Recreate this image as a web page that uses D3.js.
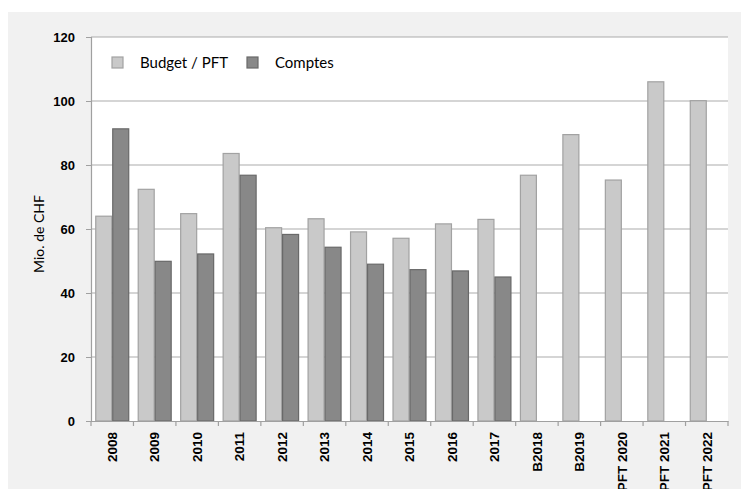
<!DOCTYPE html>
<html>
<head>
<meta charset="utf-8">
<script src="https://cdn.jsdelivr.net/npm/d3@7"></script>
<style>
  body { margin: 0; background: #fff; }
  svg { display: block; }
</style>
</head>
<body>
<div id="content"></div>
<script>
// Values (Mio. CHF)
var categories = ['2008', '2009', '2010', '2011', '2012', '2013', '2014', '2015', '2016', '2017',
    'B2018', 'B2019', 'PFT 2020', 'PFT 2021', 'PFT 2022'];
var budget = [64.0, 72.4, 64.8, 83.6, 60.4, 63.2, 59.1, 57.1, 61.6, 63.0, 76.8, 89.5, 75.3, 106.0, 100.1];
var comptes = [91.3, 49.9, 52.2, 76.8, 58.3, 54.3, 49.0, 47.3, 46.9, 45.0, null, null, null, null, null];
var yTicks = [0, 20, 40, 60, 80, 100, 120];
var seriesNames = ['Budget / PFT', 'Comptes'];

var W = 741, H = 489;
// plot area (note: "top" is reserved on window, so use a prefix)
var plotL = 91, plotR = 728, plotT = 37, plotB = 421;

var svg = d3.select('#content').append('svg')
    .attr('width', W)
    .attr('height', H)
    .style('font-family', 'Lato, "Open Sans", sans-serif');

// grey panel and white plot area
svg.append('rect').attr('x', 8).attr('y', 12).attr('width', W - 8).attr('height', H - 12).attr('fill', '#f1f1f1');
svg.append('rect').attr('x', plotL).attr('y', plotT).attr('width', plotR - plotL).attr('height', plotB - plotT).attr('fill', '#fff');

var x = d3.scaleBand().domain(categories).range([plotL, plotR]).paddingInner(0).paddingOuter(0);
var inner = d3.scaleBand().domain([0, 1]).range([0, x.bandwidth()]).paddingInner(0).paddingOuter(0.25);
var y = d3.scaleLinear().domain([0, 120]).range([plotB, plotT]);

// gridlines
svg.append('g').selectAll('line').data(yTicks.filter(function(d) { return d > 0; }))
    .enter().append('line')
    .attr('x1', plotL).attr('x2', plotR)
    .attr('y1', function(d) { return y(d); }).attr('y2', function(d) { return y(d); })
    .attr('stroke', '#acacac').attr('stroke-width', 1.2);

// y axis
var yAxis = svg.append('g')
    .attr('transform', 'translate(' + plotL + ',0)')
    .call(d3.axisLeft(y).tickValues(yTicks).tickSize(5).tickPadding(11));
yAxis.select('.domain').attr('stroke', '#a0a0a0').attr('stroke-width', 1.2);
yAxis.selectAll('.tick line').attr('stroke', '#a0a0a0');
yAxis.selectAll('.tick text')
    .attr('fill', '#000').style('font-size', '13px').style('font-weight', 'bold');

// bars
var colors = [{ fill: '#c9c9c9', stroke: '#a2a2a2' }, { fill: '#888888', stroke: '#696969' }];
[budget, comptes].forEach(function(series, s) {
    svg.append('g').selectAll('rect')
        .data(series.map(function(v, i) { return { cat: categories[i], v: v }; })
            .filter(function(d) { return d.v !== null; }))
        .enter().append('rect')
        .attr('x', function(d) { return x(d.cat) + inner(s) + 0.5; })
        .attr('width', inner.bandwidth() - 1)
        .attr('y', function(d) { return y(d.v); })
        .attr('height', function(d) { return y(0) - y(d.v); })
        .attr('fill', colors[s].fill)
        .attr('stroke', colors[s].stroke)
        .attr('stroke-width', 1.2);
});

// x axis
var xAxis = svg.append('g')
    .attr('transform', 'translate(0,' + plotB + ')')
    .call(d3.axisBottom(x).tickSize(0).tickSizeOuter(0));
xAxis.select('.domain').attr('stroke', '#a0a0a0').attr('stroke-width', 1.2);
xAxis.selectAll('.tick text')
    .attr('fill', '#000')
    .style('font-size', '13.5px').style('font-weight', 'bold')
    .attr('text-anchor', 'end')
    .attr('transform', 'rotate(-90)')
    .attr('x', -11).attr('y', 0).attr('dy', '0.35em');
// category separators below the axis
svg.append('g').selectAll('line').data(d3.range(categories.length + 1))
    .enter().append('line')
    .attr('x1', function(i) { return plotL + i * x.bandwidth(); })
    .attr('x2', function(i) { return plotL + i * x.bandwidth(); })
    .attr('y1', plotB).attr('y2', plotB + 5)
    .attr('stroke', '#a0a0a0').attr('stroke-width', 1.2);

// y axis title
svg.append('text')
    .attr('transform', 'translate(44,234) rotate(-90)')
    .attr('text-anchor', 'middle')
    .style('font-size', '14px')
    .text('Mio. de CHF');

// legend
var legend = svg.append('g');
var legendX = [112, 247];
seriesNames.forEach(function(name, s) {
    legend.append('rect')
        .attr('x', legendX[s]).attr('y', 57).attr('width', 11).attr('height', 11)
        .attr('fill', colors[s].fill).attr('stroke', colors[s].stroke).attr('stroke-width', 1.2);
    legend.append('text')
        .attr('x', legendX[s] + 28).attr('y', 68)
        .style('font-size', '15px')
        .text(name);
});
</script>
</body>
</html>
